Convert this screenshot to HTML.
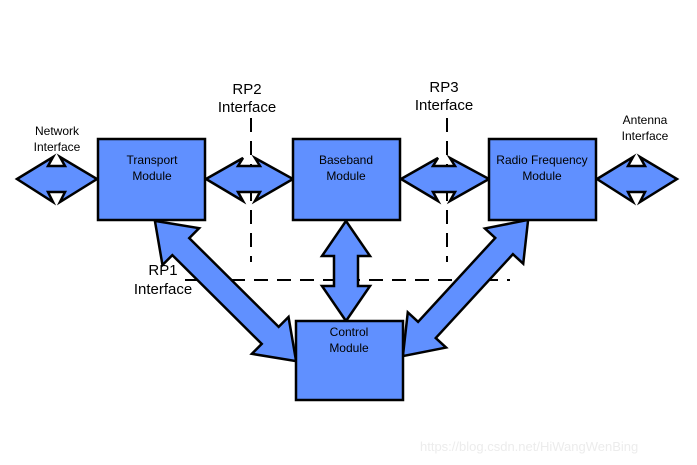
<!DOCTYPE html>
<html><head><meta charset="utf-8"><style>
body{margin:0;background:#fff;width:697px;height:465px;overflow:hidden}
svg{display:block}
text{font-family:"Liberation Sans",Arial,sans-serif;fill:#000}
</style></head><body>
<svg width="697" height="465" viewBox="0 0 697 465" xmlns="http://www.w3.org/2000/svg">
<g stroke="#000" stroke-width="2" stroke-dasharray="14,9" fill="none">
<line x1="251" y1="118" x2="251" y2="262"/>
<line x1="447" y1="118" x2="447" y2="262"/>
<line x1="185" y1="280" x2="510" y2="280"/>
</g>
<g fill="#6090FF" stroke="#000" stroke-width="2.5" stroke-linejoin="miter">
<polygon points="17,179 53,157 48,166 65,166 60,157 97,179 60,202 65,192 48,192 53,202"/>
<polygon points="206,179 243,158 238,166 260,166 255,158 293,179 255,201 260,192 238,192 243,201"/>
<polygon points="401,179 438,158 433,166 455,166 450,158 489,179 450,201 455,192 433,192 438,201"/>
<polygon points="597,179 633,157 628,166 645,166 640,157 677,179 640,202 645,192 628,192 633,202"/>
<g transform="translate(346,271) rotate(90)"><polygon points="-50,0 -15,-24 -15,-12 15,-12 15,-24 50,0 15,24 15,12 -15,12 -15,24"/></g>
<g transform="translate(225.5,291) rotate(44.8)"><polygon points="-99.5,0 -63,-26 -63,-12 63,-12 63,-26 99.5,0 63,26 63,12 -63,12 -63,26"/></g>
<g transform="translate(465.5,288) rotate(132.6)"><polygon points="-92.5,0 -57,-26 -57,-12 57,-12 57,-26 92.5,0 57,26 57,12 -57,12 -57,26"/></g>
<rect x="98" y="139" width="107" height="81"/>
<rect x="293" y="139" width="107" height="81"/>
<rect x="489" y="139" width="107" height="81"/>
<rect x="296" y="321" width="107" height="79"/>
</g>
<g font-size="12" text-anchor="middle">
<text x="152" y="164">Transport</text><text x="152" y="180">Module</text>
<text x="346" y="164">Baseband</text><text x="346" y="180">Module</text>
<text x="542" y="164">Radio Frequency</text><text x="542" y="180">Module</text>
<text x="349" y="336">Control</text><text x="349" y="352">Module</text>
<text x="57" y="135">Network</text><text x="57" y="151">Interface</text>
<text x="645" y="124">Antenna</text><text x="645" y="140">Interface</text>
</g>
<g font-size="15" text-anchor="middle">
<text x="247" y="94">RP2</text><text x="247" y="112">Interface</text>
<text x="444" y="92">RP3</text><text x="444" y="110">Interface</text>
<text x="163" y="275">RP1</text><text x="163" y="294">Interface</text>
</g>
<text x="420" y="451" font-size="13" style="fill:#ececec">https://blog.csdn.net/HiWangWenBing</text>
</svg>
</body></html>
